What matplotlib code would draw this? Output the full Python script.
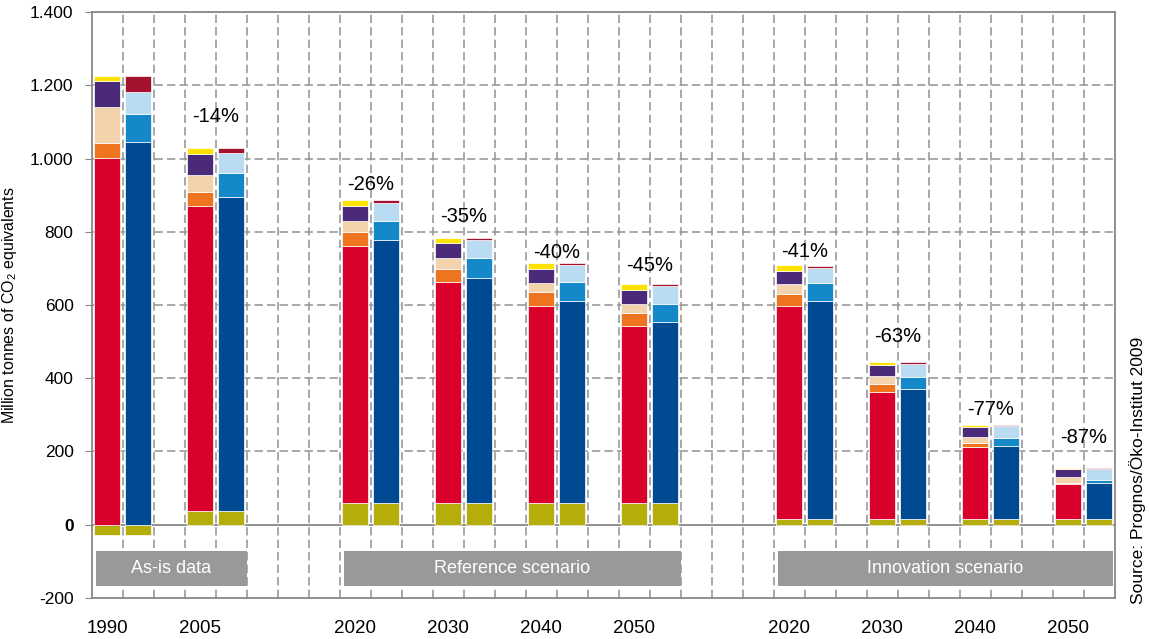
import numpy as np
import matplotlib.pyplot as plt

plt.rcParams['font.family'] = ['Liberation Sans', 'DejaVu Sans']
plt.rcParams['mathtext.fontset'] = 'custom'
plt.rcParams['mathtext.rm'] = 'Liberation Sans'

# data (million t CO2 eq.)
years = ['1990', '2005', '2020', '2030', '2040', '2050', '2020', '2030', '2040', '2050']
blocks = ['As-is data', 'Reference scenario', 'Innovation scenario']
block_sizes = [2, 4, 4]
change = ['', '-14%', '-26%', '-35%', '-40%', '-45%', '-41%', '-63%', '-77%', '-87%']

lulucf = [-29, 37, 58, 58, 58, 58, 17, 15, 15, 15]
# left bar: by source
energy = [1002, 833, 704, 606, 540, 486, 581, 347, 196, 95]
industry = [41, 39, 38, 35, 37, 33, 33, 23, 13, 5]
agri = [98, 47, 29, 28, 24, 25, 27, 20, 16, 14]
other = [70, 56, 42, 41, 40, 40, 34, 30, 27, 22]
waste = [14, 16, 16, 14, 15, 14, 16, 10, 5, 4]
# right bar: by gas
co2 = [1044, 857, 720, 617, 552, 495, 594, 355, 201, 98]
ch4 = [77, 67, 52, 54, 52, 51, 50, 34, 21, 8]
n2o = [61, 53, 49, 48, 47, 47, 39, 36, 32, 31]
fgas = [43, 14, 8, 5, 5, 5, 7, 5, 3, 4]

label_y = [None, 1114, 928, 843, 743, 707, 746, 513, 314, 237]

col_olive = '#b5ad0a'
left_cols = ['#d9002c', '#ee7420', '#f3d3ac', '#4b2a7a', '#ffe200']
right_cols = ['#004a93', '#1488c8', '#badcf2', '#a3122f']

# positions: 3 slots per year, 5 slot gap between blocks
pos = []
block_span = []
start = 0
for n in block_sizes:
    p = [start + 3 * i for i in range(n)]
    pos += p
    block_span.append((p[0], p[-1] + 1))
    start = p[-1] + 5
pos = np.array(pos)

fig = plt.figure(figsize=(11.5, 6.39), dpi=100)
ax = fig.add_axes([0.0797, 0.0642, 0.8896, 0.917])

w = 0.84
base = np.clip(np.array(lulucf), 0, None).astype(float)
for xs in [pos, pos + 1]:
    ax.bar(xs, lulucf, w, color=col_olive, edgecolor='white', linewidth=0.5, zorder=3)

b = base.copy()
for vals, c in zip([energy, industry, agri, other, waste], left_cols):
    ax.bar(pos, vals, w, bottom=b, color=c, edgecolor='white', linewidth=0.5, zorder=3)
    b += np.array(vals)

b = base.copy()
for vals, c in zip([co2, ch4, n2o, fgas], right_cols):
    ax.bar(pos + 1, vals, w, bottom=b, color=c, edgecolor='white', linewidth=0.5, zorder=3)
    b += np.array(vals)

for x, t, y in zip(pos, change, label_y):
    if t:
        ax.text(x + 0.5, y, t, ha='center', va='center', fontsize=14.5, zorder=5)

# scenario boxes
for (a, e), name in zip(block_span, blocks):
    left, right = a - 0.36, min(e + 0.5, 32.43)
    ax.bar((left + right) / 2, -95, right - left, bottom=-72,
           color='#999999', zorder=4)
    ax.text((left + right) / 2, -120, name, ha='center', va='center',
            color='white', fontsize=13, zorder=5)

# grid
gc = '#999999'
for k in range(1, 33):
    ax.axvline(k - 0.5, color=gc, lw=1.2, ls=(0, (5, 2.5)), zorder=1)
for yv in range(200, 1401, 200):
    ax.axhline(yv, color=gc, lw=1.2, ls=(0, (5, 2.5)), zorder=1)
ax.axhline(0, color='#888888', lw=1.3, zorder=2)

ax.set_xlim(-0.5, 32.5)
ax.set_ylim(-200, 1400)
for s in ax.spines.values():
    s.set_color('#888888')
    s.set_linewidth(1.3)

ax.set_xticks(pos)
ax.set_xticklabels(years, fontsize=13.5)
ax.tick_params(axis='x', length=0, pad=16)
yt = np.arange(-200, 1401, 200)
ax.set_yticks(yt)
ylabs = ['{:,}'.format(v).replace(',', '.') for v in yt]
ax.set_yticklabels(ylabs, fontsize=12.5)
ax.tick_params(axis='y', length=5, color='#888888', pad=8)
for lab in ax.get_yticklabels():
    if lab.get_text() == '0':
        lab.set_fontweight('bold')

ax.set_ylabel('Million tonnes of CO$_2$ equivalents', fontsize=11.5, labelpad=8)
fig.text(1138 / 1150, 1 - 604 / 639, 'Source: Prognos/Öko-Institut 2009',
         rotation=90, ha='center', va='bottom', fontsize=12.5)

fig.savefig('out.png', dpi=100)
